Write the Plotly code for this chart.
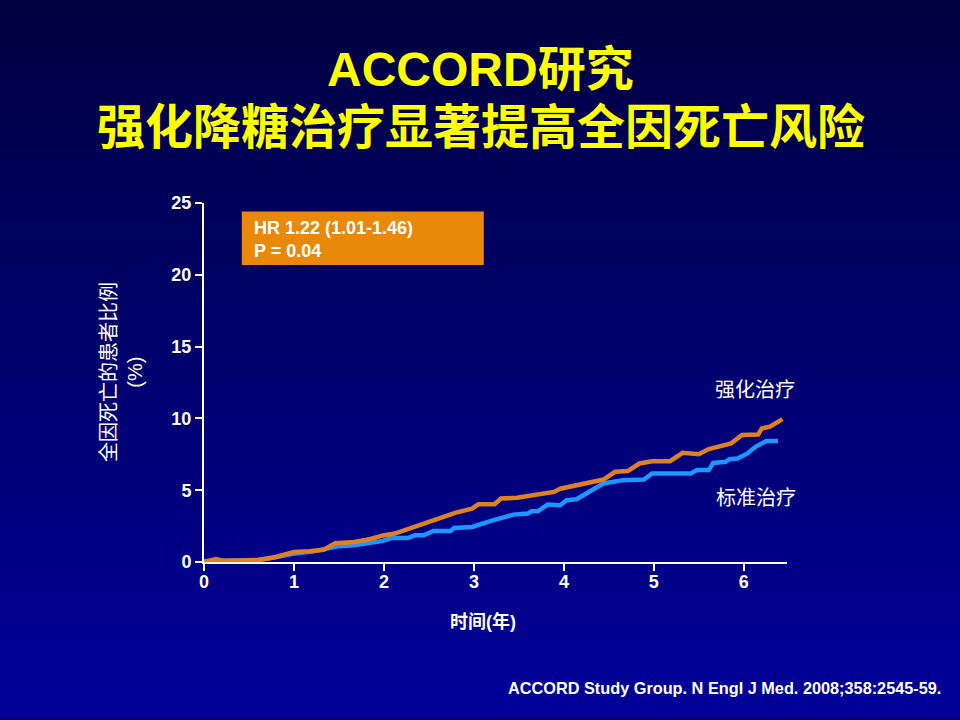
import plotly.graph_objects as go

# Kaplan-Meier style cumulative all-cause mortality (%)
years_intensive = [0, 0.13, 0.22, 0.6, 0.8, 1.0, 1.17, 1.33, 1.46, 1.67, 1.85, 1.99, 2.12, 2.26,
                   2.44, 2.62, 2.80, 2.98, 3.05, 3.23, 3.30, 3.48, 3.66, 3.89, 3.96, 4.21,
                   4.44, 4.57, 4.71, 4.84, 4.98, 5.18, 5.32, 5.50, 5.61, 5.86, 5.98, 6.16,
                   6.20, 6.29, 6.43]
pct_intensive = [0, 0.2, 0.08, 0.12, 0.35, 0.7, 0.75, 0.85, 1.3, 1.4, 1.6, 1.85, 1.98, 2.28,
                 2.67, 2.98, 3.44, 3.72, 4.02, 4.02, 4.42, 4.47, 4.65, 4.88, 5.1, 5.47,
                 5.74, 6.28, 6.33, 6.86, 7.02, 7.02, 7.6, 7.5, 7.86, 8.26, 8.84, 8.88,
                 9.3, 9.42, 9.95]

years_standard = [0, 0.3, 0.6, 0.76, 0.99, 1.22, 1.35, 1.49, 1.67, 1.85, 1.99, 2.08, 2.26,
                  2.35, 2.44, 2.55, 2.74, 2.78, 2.98, 3.21, 3.44, 3.60, 3.64, 3.71, 3.82,
                  3.96, 4.03, 4.14, 4.30, 4.44, 4.66, 4.89, 4.98, 5.41, 5.48, 5.61, 5.66,
                  5.80, 5.84, 5.93, 6.04, 6.13, 6.25, 6.38]
pct_standard = [0.05, 0.12, 0.15, 0.3, 0.58, 0.74, 0.93, 1.09, 1.16, 1.33, 1.47, 1.67, 1.67,
                1.86, 1.86, 2.16, 2.16, 2.37, 2.44, 2.9, 3.3, 3.37, 3.53, 3.53, 4.0,
                3.95, 4.3, 4.37, 5.0, 5.47, 5.7, 5.74, 6.16, 6.16, 6.4, 6.4, 6.9,
                6.98, 7.16, 7.21, 7.56, 8.02, 8.42, 8.42]

x_ticks = [0, 1, 2, 3, 4, 5, 6]
y_ticks = [0, 5, 10, 15, 20, 25]

FONT = "Liberation Sans, Arial, Noto Sans CJK SC, sans-serif"
WHITE = "white"
YELLOW = "#FFFF00"
ORANGE = "#DE8122"
BLUE = "#1E96FF"

fig = go.Figure()

fig.add_trace(go.Scatter(x=years_standard, y=pct_standard, mode="lines",
                         line=dict(color=BLUE, width=4.5), name="标准治疗"))
fig.add_trace(go.Scatter(x=years_intensive, y=pct_intensive, mode="lines",
                         line=dict(color=ORANGE, width=4.5), name="强化治疗"))

# vertical background gradient, dark navy -> blue
shapes = []
n = 72
for i in range(n):
    t = i / (n - 1)
    b = int(round(64 + (152 - 64) * t))
    shapes.append(dict(type="rect", xref="paper", yref="paper", layer="below",
                       x0=-1, x1=2, y0=1.57 - i * (2.0 / n) - 0.03, y1=1.57 - (i - 1) * (2.0 / n),
                       line=dict(width=0), fillcolor=f"rgb(0,0,{b})"))

# HR box
shapes.append(dict(type="rect", xref="x", yref="y", x0=0.42, x1=3.11, y0=20.68, y1=24.4,
                   line=dict(width=0), fillcolor="#E8890A"))

annotations = [
    dict(text="ACCORD研究", xref="paper", yref="paper", x=0.475, y=1.3705,
         xanchor="center", yanchor="middle", showarrow=False,
         font=dict(family=FONT, size=48, color=YELLOW, weight="bold")),
    dict(text="强化降糖治疗显著提高全因死亡风险", xref="paper", yref="paper", x=0.475, y=1.209,
         xanchor="center", yanchor="middle", showarrow=False,
         font=dict(family=FONT, size=48, color=YELLOW, weight="bold")),
    dict(text="HR 1.22 (1.01-1.46)<br>P = 0.04", xref="x", yref="y", x=0.53, y=22.45,
         xanchor="left", yanchor="middle", align="left", showarrow=False,
         font=dict(family=FONT, size=18, color=WHITE, weight="bold")),
    dict(text="强化治疗", xref="x", yref="y", x=6.12, y=11.98, showarrow=False,
         xanchor="center", yanchor="middle",
         font=dict(family=FONT, size=20, color=WHITE)),
    dict(text="标准治疗", xref="x", yref="y", x=6.14, y=4.46, showarrow=False,
         xanchor="center", yanchor="middle",
         font=dict(family=FONT, size=20, color=WHITE)),
    dict(text="全因死亡的患者比例<br>(%)", xref="paper", yref="paper", x=0, y=0.529,
         xshift=-82, xanchor="center", yanchor="middle", textangle=-90, showarrow=False,
         font=dict(family=FONT, size=20, color=WHITE)),
    dict(text="时间(年)", xref="paper", yref="paper", x=0.479, y=-0.167,
         xanchor="center", yanchor="middle", showarrow=False,
         font=dict(family=FONT, size=18, color=WHITE, weight="bold")),
    dict(text="ACCORD Study Group. N Engl J Med. 2008;358:2545-59.", xref="paper", yref="paper",
         x=1.2676, y=-0.351, xanchor="right", yanchor="middle", showarrow=False,
         font=dict(family=FONT, size=16.3, color=WHITE, weight="bold")),
]

axis_style = dict(showline=True, linecolor=WHITE, linewidth=2, ticks="outside", ticklen=7,
                  tickwidth=2, tickcolor=WHITE, showgrid=False, zeroline=False,
                  tickfont=dict(family=FONT, size=18, color=WHITE, weight="bold"))

fig.update_layout(
    width=960, height=720,
    margin=dict(l=204, r=173, t=203, b=158),
    paper_bgcolor="rgb(0,0,110)",
    plot_bgcolor="rgba(0,0,0,0)",
    showlegend=False,
    shapes=shapes,
    annotations=annotations,
    xaxis=dict(range=[0, 6.48], tickvals=x_ticks, ticklabelstandoff=-5, **axis_style),
    yaxis=dict(range=[0, 25], tickvals=y_ticks, **axis_style),
)

# drop the default page margin so the slide fills the window
fig.write_html("out.html", config={"displayModeBar": False},
               post_script="document.body.style.margin='0';")
